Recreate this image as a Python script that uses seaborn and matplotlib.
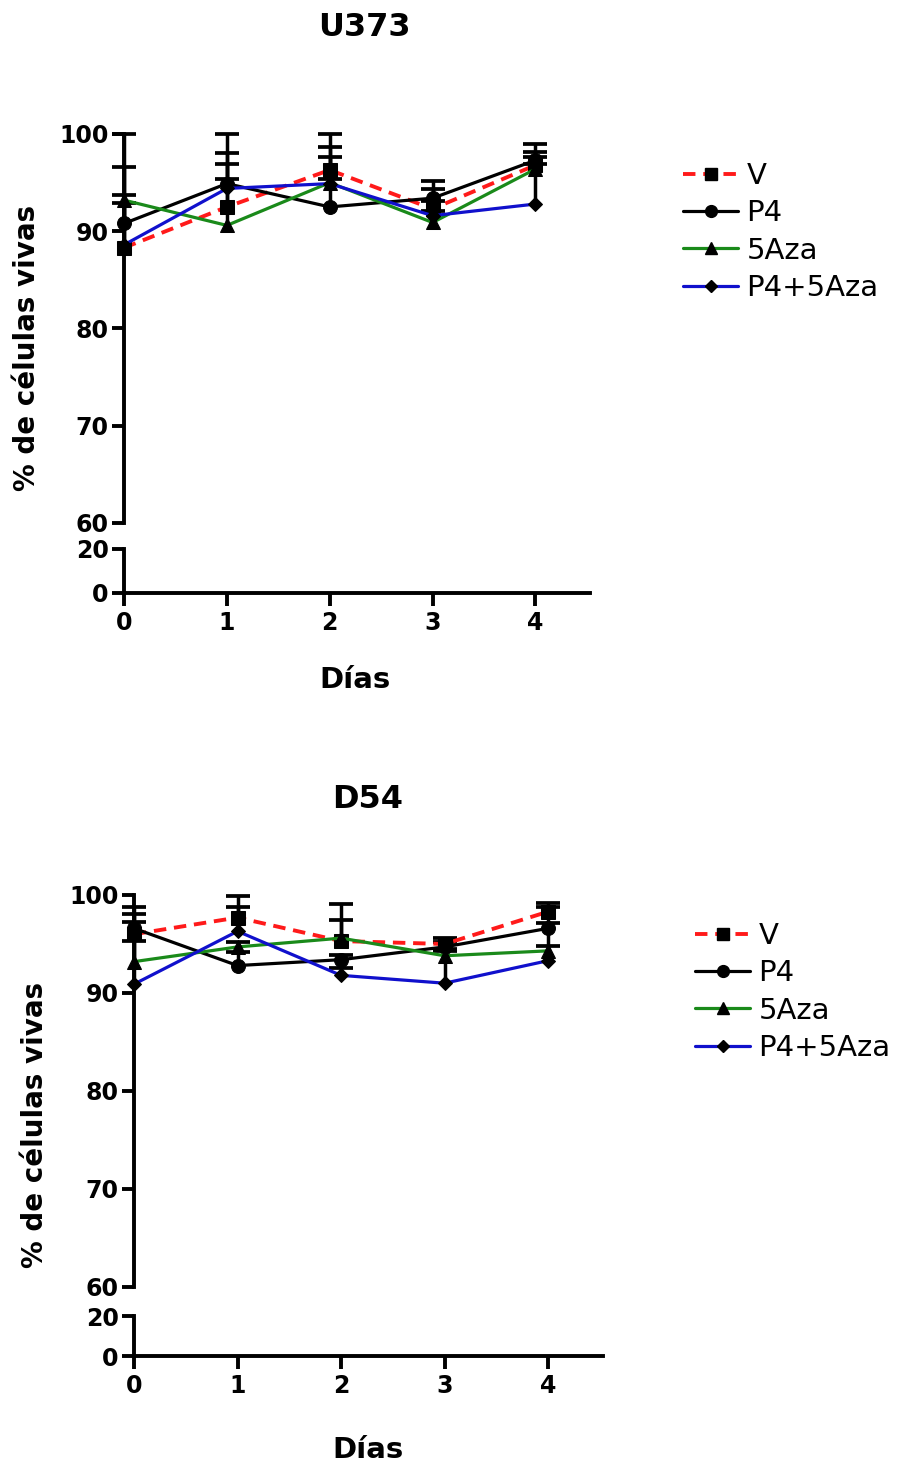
import matplotlib
matplotlib.use("Agg")
import matplotlib.pyplot as plt
import seaborn as sns
import numpy as np
import pandas as pd
from matplotlib.lines import Line2D

sns.set_theme(style="white")
plt.rcParams['font.family'] = ['DejaVu Sans']
for k in ["text.color", "axes.labelcolor", "xtick.color", "ytick.color", "axes.edgecolor"]:
    plt.rcParams[k] = "black"

days = [0, 1, 2, 3, 4]
series_names = ["V", "P4", "5Aza", "P4+5Aza"]

# U373: mean and upper error (SEM, drawn above only)
u373_V = [88.3, 92.5, 96.3, 92.3, 96.8]
u373_P4 = [90.8, 94.9, 92.5, 93.4, 97.3]
u373_5Aza = [93.2, 90.6, 95.0, 90.9, 96.4]
u373_P4_5Aza = [88.6, 94.4, 94.9, 91.6, 92.8]
u373_V_err = [11.7, 5.5, 3.7, 0.8, 0.8]
u373_P4_err = [5.8, 5.1, 6.2, 1.8, 0.8]
u373_5Aza_err = [0.5, 6.3, 2.6, 3.4, 0.5]
u373_P4_5Aza_err = [4.3, 1.0, 0.5, 0.5, 6.2]

# D54
d54_V = [96.0, 97.7, 95.3, 95.0, 98.3]
d54_P4 = [96.6, 92.8, 93.4, 94.7, 96.6]
d54_5Aza = [93.2, 94.7, 95.6, 93.8, 94.3]
d54_P4_5Aza = [90.9, 96.3, 91.8, 91.0, 93.3]
d54_V_err = [2.8, 2.2, 3.8, 0.6, 0.9]
d54_P4_err = [1.5, 1.4, 0.5, 0.5, 0.5]
d54_5Aza_err = [4.0, 0.5, 1.8, 0.5, 0.5]
d54_P4_5Aza_err = [4.4, 2.5, 0.8, 3.5, 5.5]

colors = ["#ff1a1a", "#000000", "#1a8a1a", "#1010cc"]
markers = ["s", "o", "^", "D"]
msizes = [9.5, 10, 10, 7]
lstyles = [(0, (3.2, 2.0)), "-", "-", "-"]
lwidths = [2.8, 2.3, 2.3, 2.3]

titles = ["U373", "D54"]
ylabel = "% de células vivas"
xlabel = "Días"

panel_data = [
    ([u373_V, u373_P4, u373_5Aza, u373_P4_5Aza],
     [u373_V_err, u373_P4_err, u373_5Aza_err, u373_P4_5Aza_err]),
    ([d54_V, d54_P4, d54_5Aza, d54_P4_5Aza],
     [d54_V_err, d54_P4_err, d54_5Aza_err, d54_P4_5Aza_err]),
]

W, H = 897, 1466
fig = plt.figure(figsize=(W / 100, H / 100), dpi=100)

def fx(px):
    return px / W

def fy(py):
    return 1 - py / H

# pixel layouts: (x0, x_end, y100, y60, y20, y0)
layouts = [
    (124, 590, 134, 523, 549, 593),
    (134, 603, 895, 1287, 1316, 1356),
]
title_pos = [(364, 27), (368, 800)]
ylabel_pos = [(27, 348), (35, 1125)]
xlabel_pos = [(355, 680), (368, 1450)]
legend_pos = [(683, 162), (695, 922)]

spine_w = 2.8
tick_fs = 17

for p, (vals, errs) in enumerate(panel_data):
    x0, xe, y100, y60, y20, y0 = layouts[p]
    xmax = 4.53
    ax_top = fig.add_axes([fx(x0), fy(y60), fx(xe - x0), (y60 - y100) / H])
    ax_bot = fig.add_axes([fx(x0), fy(y0), fx(xe - x0), (y0 - y20) / H])
    for ax in (ax_top, ax_bot):
        ax.set_facecolor("none")
        ax.set_xlim(0, xmax)
        for s in ["top", "right"]:
            ax.spines[s].set_visible(False)
        ax.spines["left"].set_linewidth(spine_w)
        ax.spines["bottom"].set_linewidth(spine_w)
        ax.tick_params(axis="both", direction="out", length=9, width=spine_w,
                       labelsize=tick_fs, colors="black", left=True, bottom=True)
        ax.tick_params(axis="y", pad=2)
        ax.tick_params(axis="x", pad=4)
    ax_top.spines["bottom"].set_visible(False)
    ax_top.set_ylim(60, 100)
    ax_top.set_yticks([60, 70, 80, 90, 100])
    ax_top.set_xticks([])
    ax_top.tick_params(axis="x", bottom=False)
    ax_bot.set_ylim(0, 20)
    ax_bot.set_yticks([0, 20])
    ax_bot.set_xticks(days)

    for i in range(4):
        v = np.array(vals[i])
        e = np.array(errs[i])
        ax_top.errorbar(days, v, yerr=[np.zeros_like(e), e], fmt="none", ecolor="black",
                        elinewidth=2.5, capsize=0, clip_on=False, zorder=3)
        ax_top.plot(days, v + e, linestyle="none", marker="_", markersize=17,
                    markeredgewidth=2.7, color="black", clip_on=False, zorder=3)
    for i in range(4):
        df = pd.DataFrame({"day": days, "val": vals[i]})
        sns.lineplot(data=df, x="day", y="val", ax=ax_top, color=colors[i],
                     linestyle=lstyles[i], linewidth=lwidths[i],
                     marker=markers[i], markersize=msizes[i], markerfacecolor="black",
                     markeredgecolor="black", clip_on=False, zorder=4 + i, legend=False)
    ax_top.set_xlabel("")
    ax_top.set_ylabel("")
    for lab in ax_top.get_yticklabels() + ax_bot.get_yticklabels() + ax_bot.get_xticklabels():
        lab.set_fontweight("bold")
        lab.set_fontsize(tick_fs)

    tx, ty = title_pos[p]
    fig.text(fx(tx), fy(ty), titles[p], ha="center", va="center",
             fontsize=23, fontweight="bold")
    lx_, ly_ = ylabel_pos[p]
    fig.text(fx(lx_), fy(ly_), ylabel, rotation=90, ha="center",
             va="center", fontsize=20, fontweight="bold")
    xx, xy = xlabel_pos[p]
    fig.text(fx(xx), fy(xy), xlabel, ha="center", va="center",
             fontsize=21, fontweight="bold")

    handles = [Line2D([0], [0], color=colors[i], linestyle=lstyles[i], linewidth=lwidths[i],
                      marker=markers[i], markersize=msizes[i] * 0.85, markerfacecolor="black",
                      markeredgecolor="black") for i in range(4)]
    lx, ly = legend_pos[p]
    fig.legend(handles, series_names, loc="upper left",
               bbox_to_anchor=(fx(lx), fy(ly)), frameon=False, fontsize=21,
               handlelength=1.9, handletextpad=0.28, labelspacing=0.32,
               borderaxespad=0, borderpad=0)

fig.savefig("out.png", dpi=100)
